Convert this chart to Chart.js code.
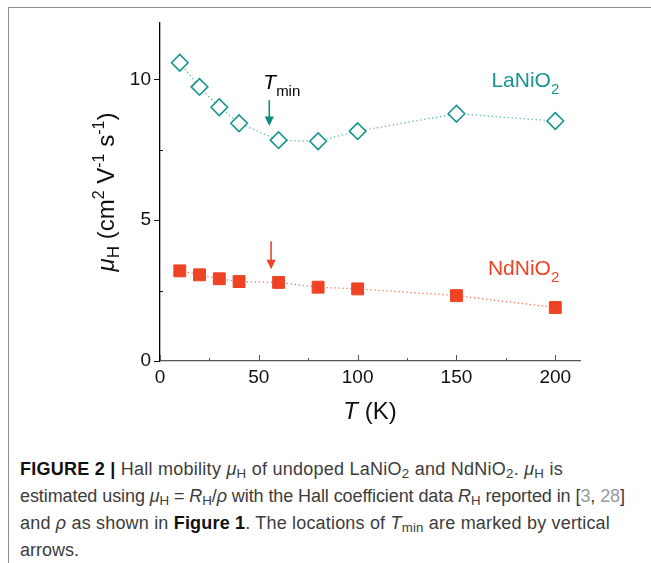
<!DOCTYPE html>
<html>
<head>
<meta charset="utf-8">
<script src="https://cdn.jsdelivr.net/npm/chart.js@4/dist/chart.umd.min.js"></script>
<style>
  html, body { margin: 0; padding: 0; background: #fff; }
  body { width: 651px; height: 563px; position: relative; overflow: hidden; }
  #frameTop { position: absolute; left: 8px; top: 7px; width: 643px; height: 1px; background: #8c8c8c; }
  #frameLeft { position: absolute; left: 8px; top: 7px; width: 1px; height: 556px; background: #8c8c8c; }
  #chart { position: absolute; left: 0; top: 0; }
  #caption { position: absolute; left: 20px; top: 456px; font-family: "Liberation Sans", Arial, sans-serif;
             font-size: 18px; line-height: 27px; color: #3c3c3c; white-space: nowrap; }
  #caption div { height: 27px; }
  #caption span.line { display: inline-block; }
  #caption sub { font-size: 0.74em; vertical-align: -0.22em; line-height: 0; }
  #caption b { color: #111; }
  .ref { color: #9a9a9a; }
</style>
</head>
<body>
<div id="frameTop"></div>
<div id="frameLeft"></div>
<canvas id="chart" width="651" height="440"></canvas>
<div id="caption">
  <div><span class="line" data-w="543"><b>FIGURE 2 |</b> Hall mobility <i>μ</i><sub>H</sub> of undoped LaNiO<sub>2</sub> and NdNiO<sub>2</sub>. <i>μ</i><sub>H</sub> is</span></div>
  <div><span class="line" data-w="605">estimated using <i>μ</i><sub>H</sub> = <i>R</i><sub>H</sub>/<i>ρ</i> with the Hall coefficient data <i>R</i><sub>H</sub> reported in [<span class="ref">3</span>, <span class="ref">28</span>]</span></div>
  <div><span class="line" data-w="590">and <i>ρ</i> as shown in <b>Figure 1</b>. The locations of <i>T</i><sub>min</sub> are marked by vertical</span></div>
  <div><span class="line">arrows.</span></div>
</div>
<script>
// fit caption lines to the widths seen in the reference
document.querySelectorAll('#caption span.line[data-w]').forEach(el => {
  const target = +el.dataset.w;
  const n = el.textContent.length;
  const w = el.getBoundingClientRect().width;
  el.style.letterSpacing = ((target - w) / n).toFixed(3) + 'px';
});

// ---- data ----
const temps = [10, 20, 30, 40, 60, 80, 100, 150, 200];
const laNiO2 = [10.59, 9.73, 9.01, 8.44, 7.84, 7.80, 8.16, 8.78, 8.52];
const ndNiO2 = [3.20, 3.06, 2.92, 2.82, 2.79, 2.62, 2.56, 2.32, 1.90];
const xTickValues = [0, 50, 100, 150, 200];
const xMinorTicks = [25, 75, 125, 175];
const yTickValues = [0, 5, 10];
const yMinorTicks = [2.5, 7.5];
const tminT = [55.3, 56.2];          // La, Nd arrow positions (K)
const arrowTail = [9.26, 4.25];      // arrow start values
const arrowTip = [8.34, 3.26];       // arrow end values

const FONT = '"Liberation Sans", Arial, sans-serif';
const TEAL = '#17958f';
const TEAL_DARK = '#0e8a80';
const RED = '#ee4325';

function richWidth(ctx, parts) {
  let w = 0;
  for (const p of parts) { ctx.font = p.f; w += ctx.measureText(p.t).width; }
  return w;
}
function drawRich(ctx, parts, x, y, align) {
  const w = richWidth(ctx, parts);
  let cx = align === 'right' ? x - w : align === 'center' ? x - w / 2 : x;
  ctx.textBaseline = 'alphabetic';
  ctx.textAlign = 'left';
  for (const p of parts) {
    ctx.font = p.f;
    ctx.fillText(p.t, cx, y + (p.dy || 0));
    cx += ctx.measureText(p.t).width;
  }
}
function arrow(ctx, x, y1, y2, color) {
  ctx.save();
  ctx.strokeStyle = color; ctx.fillStyle = color; ctx.lineWidth = 1.6;
  ctx.beginPath(); ctx.moveTo(x, y1); ctx.lineTo(x, y2 - 8); ctx.stroke();
  ctx.beginPath(); ctx.moveTo(x - 4.6, y2 - 9.5); ctx.lineTo(x + 4.6, y2 - 9.5); ctx.lineTo(x, y2); ctx.closePath(); ctx.fill();
  ctx.restore();
}

const decor = {
  id: 'decor',
  afterDraw(chart) {
    const ctx = chart.ctx;
    const xs = chart.scales.x, ys = chart.scales.y;
    const x0 = xs.getPixelForValue(0), y0 = ys.getPixelForValue(0);
    ctx.save();
    // ticks: x inward, y major outward / minor inward
    ctx.lineWidth = 1;
    ctx.strokeStyle = '#555';
    for (const v of xTickValues) { const px = Math.round(xs.getPixelForValue(v)) + 0.5; ctx.beginPath(); ctx.moveTo(px, y0); ctx.lineTo(px, y0 - 6); ctx.stroke(); }
    for (const v of xMinorTicks) { const px = Math.round(xs.getPixelForValue(v)) + 0.5; ctx.beginPath(); ctx.moveTo(px, y0); ctx.lineTo(px, y0 - 3); ctx.stroke(); }
    ctx.strokeStyle = '#111';
    for (const v of yTickValues) { const py = Math.round(ys.getPixelForValue(v)) + 0.5; ctx.beginPath(); ctx.moveTo(x0, py); ctx.lineTo(x0 - 6, py); ctx.stroke(); }
    for (const v of yMinorTicks) { const py = Math.round(ys.getPixelForValue(v)) + 0.5; ctx.beginPath(); ctx.moveTo(x0, py); ctx.lineTo(x0 + 3, py); ctx.stroke(); }

    // arrows
    arrow(ctx, xs.getPixelForValue(tminT[0]), ys.getPixelForValue(arrowTail[0]), ys.getPixelForValue(arrowTip[0]), TEAL_DARK);
    arrow(ctx, xs.getPixelForValue(tminT[1]), ys.getPixelForValue(arrowTail[1]), ys.getPixelForValue(arrowTip[1]), RED);

    // T_min label
    ctx.fillStyle = '#000';
    drawRich(ctx, [
      { t: 'T', f: 'italic 21px ' + FONT },
      { t: 'min', f: '15px ' + FONT, dy: 7 }
    ], xs.getPixelForValue(tminT[0]) - 6, ys.getPixelForValue(arrowTail[0]) - 11, 'left');

    // series labels
    ctx.fillStyle = TEAL;
    drawRich(ctx, [
      { t: 'LaNiO', f: '21px ' + FONT },
      { t: '2', f: '15px ' + FONT, dy: 7 }
    ], xs.getPixelForValue(202), ys.getPixelForValue(9.72), 'right');
    ctx.fillStyle = RED;
    drawRich(ctx, [
      { t: 'NdNiO', f: '21px ' + FONT },
      { t: '2', f: '15px ' + FONT, dy: 7 }
    ], xs.getPixelForValue(202), ys.getPixelForValue(3.04), 'right');

    // axis titles
    ctx.fillStyle = '#111';
    drawRich(ctx, [
      { t: 'T', f: 'italic 24px ' + FONT },
      { t: ' (K)', f: '24px ' + FONT }
    ], (chart.chartArea.left + chart.chartArea.right) / 2, 419, 'center');

    ctx.translate(114, (chart.chartArea.top + chart.chartArea.bottom) / 2);
    ctx.rotate(-Math.PI / 2);
    drawRich(ctx, [
      { t: 'μ', f: 'italic 24px ' + FONT },
      { t: 'H', f: '17px ' + FONT, dy: 5 },
      { t: ' (cm', f: '24px ' + FONT },
      { t: '2', f: '16px ' + FONT, dy: -10 },
      { t: ' V', f: '24px ' + FONT },
      { t: '-1', f: '16px ' + FONT, dy: -10 },
      { t: ' s', f: '24px ' + FONT },
      { t: '-1', f: '16px ' + FONT, dy: -10 },
      { t: ')', f: '24px ' + FONT }
    ], 0, 0, 'center');
    ctx.restore();
  }
};

new Chart(document.getElementById('chart'), {
  type: 'line',
  data: {
    datasets: [
      {
        label: 'LaNiO2',
        data: temps.map((t, i) => ({ x: t, y: laNiO2[i] })),
        borderColor: '#5cb8b2',
        borderWidth: 1.3,
        borderDash: [1.3, 2.7],
        pointStyle: 'rectRot',
        pointRadius: 8.3,
        pointBackgroundColor: '#fff',
        pointBorderColor: TEAL,
        pointBorderWidth: 1.6,
        tension: 0
      },
      {
        label: 'NdNiO2',
        data: temps.map((t, i) => ({ x: t, y: ndNiO2[i] })),
        borderColor: '#f2735e',
        borderWidth: 1.3,
        borderDash: [1.3, 2.7],
        pointStyle: 'rect',
        pointRadius: 8.4,
        pointBackgroundColor: RED,
        pointBorderColor: RED,
        pointBorderWidth: 1,
        tension: 0
      }
    ]
  },
  options: {
    responsive: false,
    animation: false,
    events: [],
    layout: { padding: { top: 23, right: 71, left: 0, bottom: 0 } },
    plugins: { legend: { display: false }, tooltip: { enabled: false } },
    scales: {
      x: {
        type: 'linear', min: 0, max: 212.5,
        afterBuildTicks: s => { s.ticks = xTickValues.map(v => ({ value: v })); },
        afterFit: s => { s.height = 440 - 361; },
        grid: { display: false, drawTicks: false, tickLength: 0 },
        border: { display: true, color: '#555', width: 1.3 },
        ticks: { color: '#111', font: { family: FONT, size: 19 }, padding: 5, maxRotation: 0 }
      },
      y: {
        type: 'linear', min: 0, max: 12,
        afterBuildTicks: s => { s.ticks = yTickValues.map(v => ({ value: v })); },
        afterFit: s => { s.width = 160; },
        grid: { display: false, drawTicks: false, tickLength: 0 },
        border: { display: true, color: '#000', width: 1.3 },
        ticks: { color: '#111', font: { family: FONT, size: 19 }, padding: 9 }
      }
    }
  },
  plugins: [decor]
});
</script>
</body>
</html>
